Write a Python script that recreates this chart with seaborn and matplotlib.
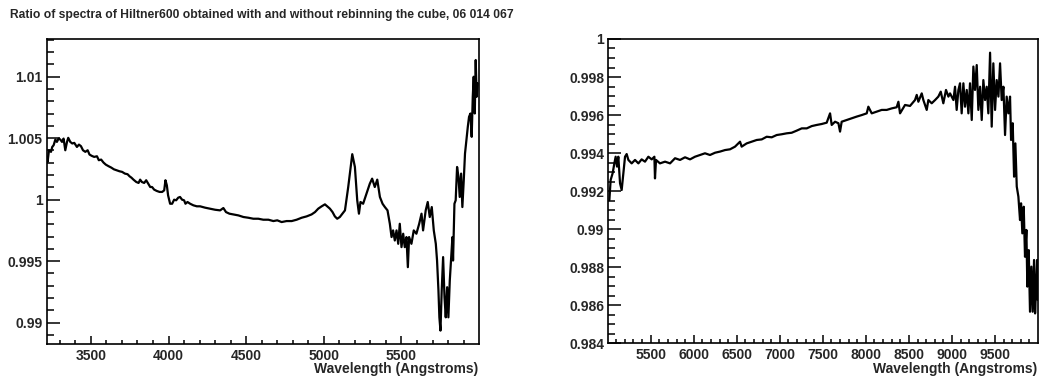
import numpy as np
import pandas as pd
import matplotlib
matplotlib.use("Agg")
import matplotlib.pyplot as plt
import seaborn as sns
from matplotlib.ticker import MultipleLocator, FormatStrFormatter

# Blue arm: wavelength (Angstrom) and ratio
blue_wave = [3217, 3221, 3230, 3243, 3251, 3260, 3271, 3281, 3292, 3303, 3314, 3324, 3335, 3346,
             3354, 3367, 3380, 3393, 3410, 3423, 3436, 3449, 3464, 3479, 3491, 3506, 3521, 3539,
             3551, 3566, 3581, 3596, 3614, 3631, 3648, 3667, 3684, 3701, 3719, 3736, 3749, 3761,
             3774, 3792, 3807, 3817, 3828, 3843, 3856, 3869, 3882, 3894, 3907, 3924, 3942, 3959,
             3972, 3980, 3989, 3997, 4010, 4023, 4036, 4049, 4062, 4074, 4087, 4100, 4109, 4122,
             4139, 4160, 4182, 4203, 4235, 4267, 4300, 4332, 4353, 4370, 4392, 4417, 4450, 4482,
             4514, 4546, 4578, 4610, 4643, 4675, 4700, 4728, 4760, 4793, 4825, 4857, 4889, 4921,
             4943, 4964, 4986, 5007, 5022, 5039, 5056, 5071, 5086, 5103, 5136, 5157, 5183, 5200,
             5215, 5226, 5236, 5253, 5275, 5296, 5311, 5328, 5344, 5361, 5378, 5393, 5410, 5425,
             5436, 5446, 5457, 5468, 5479, 5489, 5500, 5511, 5521, 5532, 5541, 5549, 5564, 5579,
             5596, 5614, 5629, 5639, 5656, 5669, 5682, 5695, 5708, 5721, 5729, 5738, 5744, 5751,
             5759, 5768, 5777, 5785, 5794, 5802, 5811, 5819, 5828, 5832, 5841, 5849, 5858, 5867,
             5875, 5884, 5892, 5901, 5909, 5918, 5927, 5935, 5944, 5952, 5959, 5965, 5972, 5978,
             5984, 5991]
blue_ratio = [1.00348, 1.00307, 1.00402, 1.00389, 1.00429, 1.00443, 1.00489, 1.00470, 1.00497,
              1.00489, 1.00470, 1.00497, 1.00402, 1.00470, 1.00503, 1.00470, 1.00457, 1.00462,
              1.00429, 1.00448, 1.00435, 1.00402, 1.00389, 1.00402, 1.00367, 1.00356, 1.00348,
              1.00353, 1.00321, 1.00326, 1.00302, 1.00285, 1.00272, 1.00261, 1.00247, 1.00239,
              1.00231, 1.00226, 1.00212, 1.00207, 1.00190, 1.00179, 1.00163, 1.00144, 1.00136,
              1.00163, 1.00144, 1.00136, 1.00158, 1.00130, 1.00103, 1.00103, 1.00082, 1.00071,
              1.00063, 1.00063, 1.00076, 1.00158, 1.00117, 1.00035, 0.99967, 0.99967, 1.00000,
              0.99995, 1.00016, 1.00022, 1.00000, 0.99995, 0.99967, 0.99981, 0.99967, 0.99954,
              0.99946, 0.99946, 0.99935, 0.99927, 0.99918, 0.99913, 0.99932, 0.99899, 0.99886,
              0.99880, 0.99872, 0.99859, 0.99853, 0.99845, 0.99845, 0.99837, 0.99837, 0.99826,
              0.99832, 0.99818, 0.99826, 0.99826, 0.99837, 0.99853, 0.99864, 0.99880, 0.99899,
              0.99927, 0.99946, 0.99962, 0.99946, 0.99927, 0.99899, 0.99864, 0.99845, 0.99859,
              0.99913, 1.00103, 1.00370, 1.00266, 0.99995, 0.99886, 0.99981, 0.99967, 1.00049,
              1.00130, 1.00171, 1.00103, 1.00163, 1.00022, 0.99967, 0.99940, 0.99913, 0.99804,
              0.99696, 0.99750, 0.99668, 0.99750, 0.99641, 0.99804, 0.99614, 0.99723, 0.99614,
              0.99696, 0.99451, 0.99696, 0.99641, 0.99750, 0.99723, 0.99804, 0.99886, 0.99750,
              0.99913, 0.99981, 0.99859, 0.99940, 0.99750, 0.99641, 0.99505, 0.99261, 0.99043,
              0.98935, 0.99261, 0.99533, 0.99207, 0.99043, 0.99288, 0.99043, 0.99342, 0.99505,
              0.99696, 0.99505, 0.99967, 0.99995, 1.00266, 1.00185, 1.00022, 1.00212, 0.99940,
              1.00158, 1.00375, 1.00484, 1.00592, 1.00674, 1.00701, 1.00511, 1.00837, 1.01000,
              1.00701, 1.01136, 1.00837, 1.00946]

# Red arm: wavelength (Angstrom) and ratio
red_wave = [5020, 5035, 5058, 5078, 5093, 5109, 5124, 5144, 5163, 5182, 5202, 5221, 5241, 5279,
            5318, 5357, 5395, 5434, 5473, 5512, 5543, 5550, 5562, 5608, 5667, 5725, 5783, 5841,
            5899, 5957, 6015, 6073, 6131, 6189, 6248, 6306, 6364, 6422, 6480, 6538, 6557, 6615,
            6674, 6732, 6790, 6848, 6906, 6964, 7022, 7080, 7138, 7196, 7255, 7313, 7371, 7429,
            7487, 7545, 7584, 7603, 7642, 7681, 7700, 7719, 7777, 7835, 7894, 7952, 8010, 8029,
            8068, 8126, 8184, 8242, 8300, 8358, 8378, 8397, 8455, 8513, 8571, 8591, 8610, 8649,
            8668, 8707, 8726, 8765, 8804, 8842, 8870, 8900, 8931, 8959, 8978, 9017, 9036, 9055,
            9075, 9094, 9113, 9133, 9152, 9172, 9191, 9210, 9230, 9249, 9268, 9288, 9307, 9327,
            9346, 9365, 9385, 9404, 9423, 9443, 9462, 9481, 9501, 9520, 9540, 9559, 9578, 9598,
            9617, 9636, 9656, 9675, 9687, 9706, 9722, 9737, 9753, 9772, 9791, 9803, 9818, 9834,
            9849, 9865, 9876, 9892, 9907, 9923, 9938, 9954, 9966, 9977, 9989, 9997]
red_ratio = [0.99153, 0.99259, 0.99294, 0.99346, 0.99381, 0.99329, 0.99381, 0.99241, 0.99206,
             0.99294, 0.99381, 0.99395, 0.99364, 0.99346, 0.99364, 0.99346, 0.99367, 0.99355,
             0.99381, 0.99367, 0.99381, 0.99267, 0.99364, 0.99346, 0.99355, 0.99346, 0.99373,
             0.99364, 0.99378, 0.99367, 0.99381, 0.99390, 0.99399, 0.99390, 0.99402, 0.99408,
             0.99416, 0.99420, 0.99434, 0.99460, 0.99434, 0.99451, 0.99460, 0.99469, 0.99472,
             0.99486, 0.99483, 0.99495, 0.99499, 0.99504, 0.99507, 0.99518, 0.99530, 0.99530,
             0.99542, 0.99548, 0.99553, 0.99560, 0.99609, 0.99548, 0.99565, 0.99557, 0.99513,
             0.99565, 0.99574, 0.99583, 0.99592, 0.99600, 0.99609, 0.99644, 0.99609, 0.99618,
             0.99627, 0.99627, 0.99635, 0.99641, 0.99670, 0.99609, 0.99653, 0.99648, 0.99679,
             0.99706, 0.99670, 0.99714, 0.99679, 0.99627, 0.99679, 0.99662, 0.99679, 0.99697,
             0.99723, 0.99662, 0.99732, 0.99697, 0.99714, 0.99679, 0.99749, 0.99627, 0.99732,
             0.99767, 0.99609, 0.99767, 0.99644, 0.99732, 0.99609, 0.99767, 0.99574, 0.99855,
             0.99732, 0.99863, 0.99627, 0.99749, 0.99574, 0.99784, 0.99679, 0.99749, 0.99609,
             0.99928, 0.99539, 0.99872, 0.99627, 0.99784, 0.99697, 0.99872, 0.99679, 0.99749,
             0.99495, 0.99697, 0.99609, 0.99697, 0.99469, 0.99557, 0.99276, 0.99451, 0.99224,
             0.99171, 0.99048, 0.99136, 0.98978, 0.99118, 0.98855, 0.98996, 0.98698, 0.98890,
             0.98566, 0.98803, 0.98566, 0.98838, 0.98557, 0.98680, 0.98838, 0.98628]

title = "Ratio of spectra of Hiltner600 obtained with and without rebinning the cube, 06 014 067"
xlabel = "Wavelength (Angstroms)"

sns.set_theme(style="ticks")
plt.rcParams['font.family'] = ['Liberation Sans', 'DejaVu Sans']
plt.rcParams['font.weight'] = 'bold'

fig = plt.figure(figsize=(10.39, 3.77), dpi=100)
ax_l = fig.add_axes([0.0449, 0.0875, 0.4158, 0.8091])
ax_r = fig.add_axes([0.5855, 0.0894, 0.4133, 0.8072])

blue = pd.DataFrame({'wave': blue_wave, 'ratio': blue_ratio})
red = pd.DataFrame({'wave': red_wave, 'ratio': red_ratio})

sns.lineplot(data=blue, x='wave', y='ratio', ax=ax_l, color='black', linewidth=1.6,
             sort=False, estimator=None)
sns.lineplot(data=red, x='wave', y='ratio', ax=ax_r, color='black', linewidth=1.6,
             sort=False, estimator=None)

ax_l.set_xlim(3215, 5997)
ax_l.set_ylim(0.98826, 1.01307)
ax_r.set_xlim(5008, 9997)
ax_r.set_ylim(0.984, 1.0)

# ROOT-like axes: inward ticks on left/bottom only
for ax, ymaj, ymin in [(ax_l, 0.005, 0.001), (ax_r, 0.002, 0.0005)]:
    ax.xaxis.set_major_locator(MultipleLocator(500))
    ax.xaxis.set_minor_locator(MultipleLocator(100))
    ax.yaxis.set_major_locator(MultipleLocator(ymaj))
    ax.yaxis.set_minor_locator(MultipleLocator(ymin))
    ax.yaxis.set_major_formatter(FormatStrFormatter('%g'))
    ax.tick_params(axis='both', which='both', direction='in', top=False, right=False,
                   color='black', width=1.1)
    ax.tick_params(axis='y', which='major', length=9.4, pad=3, labelsize=10)
    ax.tick_params(axis='y', which='minor', length=4.7)
    ax.tick_params(axis='x', which='major', length=6, pad=3.5, labelsize=10)
    ax.tick_params(axis='x', which='minor', length=2.8)
    for sp in ax.spines.values():
        sp.set_visible(True)
        sp.set_linewidth(1.2)
        sp.set_color('black')
    ax.set_xlabel('')
    ax.set_ylabel('')
    ax.grid(False)

ax_l.set_xticks([3500, 4000, 4500, 5000, 5500])
ax_r.set_xticks([5500, 6000, 6500, 7000, 7500, 8000, 8500, 9000, 9500])
for ax in (ax_l, ax_r):
    for lbl in ax.get_xticklabels() + ax.get_yticklabels():
        lbl.set_fontweight('bold')

fig.text(0.4607, 0.0106, xlabel, ha='right', va='baseline', fontsize=10, fontweight='bold')
fig.text(0.9987, 0.0106, xlabel, ha='right', va='baseline', fontsize=10, fontweight='bold')
fig.text(10 / 1039, 1 - 18.3 / 377, title, ha='left', va='baseline', fontsize=8.7,
         fontweight='bold')

fig.savefig('out.png', dpi=100)
